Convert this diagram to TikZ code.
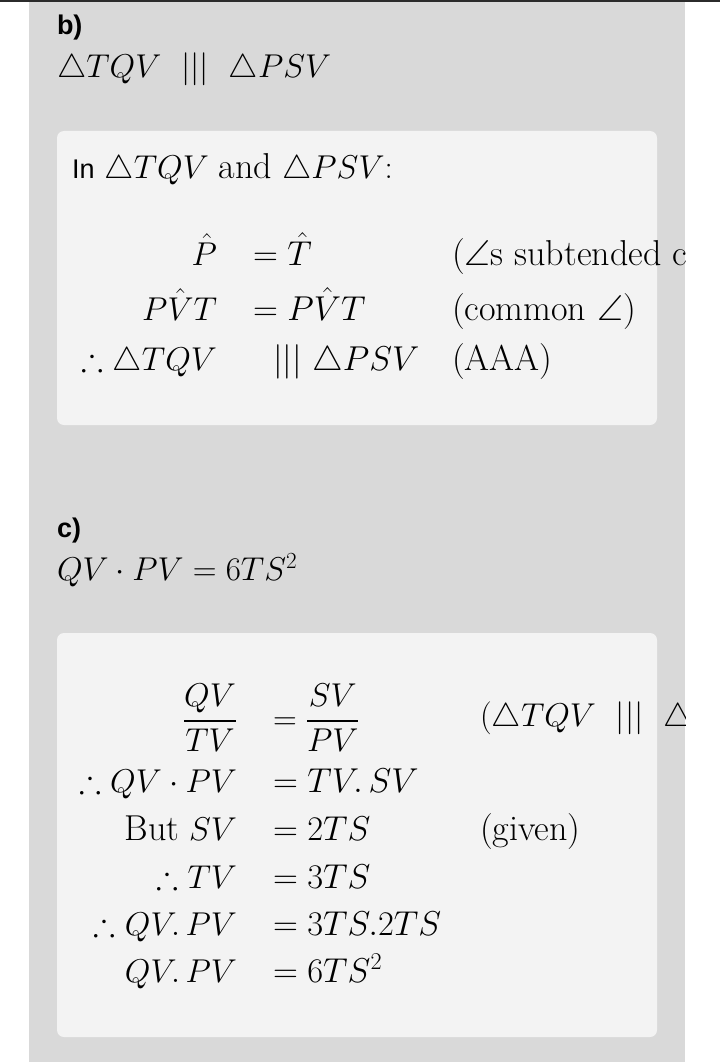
\RequirePackage{fix-cm}
\documentclass[tikz,border=0pt]{standalone}
\usepackage{amsmath,amssymb}
\usepackage{fontspec}
\newfontfamily\uisans{Liberation Sans}
\usepackage{tikz}
\usetikzlibrary{positioning}
\definecolor{panelgray}{HTML}{D9D9D9}
\definecolor{boxgray}{HTML}{F3F3F3}
\definecolor{topbar}{HTML}{2B2B2B}
\newcommand\bigmath{\fontsize{33}{40}\selectfont}
\newcommand\rhsmath{\fontsize{34.5}{41}\selectfont}
\newcommand\bigword{\fontsize{36}{42}\selectfont}

\begin{document}
\begin{tikzpicture}[x=1pt,y=-1pt,
    every node/.style={inner sep=0pt,outer sep=0pt,font=\bigmath},
    head/.style={anchor=base west,font=\uisans\bfseries\fontsize{27}{32}\selectfont},
    lhs/.style={anchor=base east},
    rhs/.style={anchor=base west,font=\rhsmath},
    why/.style={anchor=base west,font=\bigword}
    ]
    \useasboundingbox (0,0) rectangle (720,1062);
    \fill[white] (0,0) rectangle (720,1062);
    \fill[panelgray] (28.5,2.5) rectangle (685,1062);
    \fill[topbar] (0,0) rectangle (720,2.5);
    \fill[boxgray, rounded corners=7pt] (57,131) rectangle (657,425);
    \fill[boxgray, rounded corners=7pt] (57,633) rectangle (657,1037);
    \begin{scope}
        \clip (0,0) rectangle (685,1062);
        % part b
        \node[head] (bhead) at (57,35) {b)};
        \node[rhs,font=\bigmath] (bclaim) at (57,78) {$\triangle TQV\ \ |||\ \ \triangle PSV$};
        \node[rhs,font=\bigmath] (bin) at (72,178) {{\uisans\fontsize{27}{32}\selectfont In} $\triangle TQV$ {\bigword and} $\triangle PSV$:};
        \node[lhs] (bl1) at (217,265) {$\hat{P}$};
        \node[rhs] (br1) at (253,265) {$=\hat{T}$};
        \node[why] (bw1) at (452,265) {($\angle$s subtended c};
        \node[lhs] (bl2) at (217,320) {$P\hat{V}T$};
        \node[rhs] (br2) at (253,320) {$=P\hat{V}T$};
        \node[why] (bw2) at (452,320) {(common $\angle$)};
        \node[lhs] (bl3) at (217,370) {$\therefore\triangle TQV$};
        \node[rhs] (br3) at (273,370) {$|||\ \triangle PSV$};
        \node[why] (bw3) at (452,370) {(AAA)};
        % part c
        \node[head] (chead) at (57,537) {c)};
        \node[rhs,font=\bigmath] (cclaim) at (57,580) {$QV\cdot PV=6TS^2$};
        \node[anchor=east] (cl1) at (237,718) {$\dfrac{QV}{TV}$};
        \node[anchor=west] (cr1) at (273,718) {$=\dfrac{SV}{PV}$};
        \node[anchor=west] (cw1) at (480,718) {$(\triangle TQV\ \ |||\ \ \triangle$};
        \node[lhs] (cl2) at (237,792) {$\therefore QV\cdot PV$};
        \node[rhs] (cr2) at (273,792) {$=TV.\,SV$};
        \node[lhs] (cl3) at (237,840) {{\bigword But} $SV$};
        \node[rhs] (cr3) at (273,840) {$=2TS$};
        \node[why] (cw3) at (480,840) {(given)};
        \node[lhs] (cl4) at (237,888) {$\therefore TV$};
        \node[rhs] (cr4) at (273,888) {$=3TS$};
        \node[lhs] (cl5) at (237,935) {$\therefore QV.\,PV$};
        \node[rhs] (cr5) at (273,935) {$=3TS.2TS$};
        \node[lhs] (cl6) at (237,982) {$QV.\,PV$};
        \node[rhs] (cr6) at (273,982) {$=6TS^2$};
    \end{scope}
\end{tikzpicture}
\end{document}
